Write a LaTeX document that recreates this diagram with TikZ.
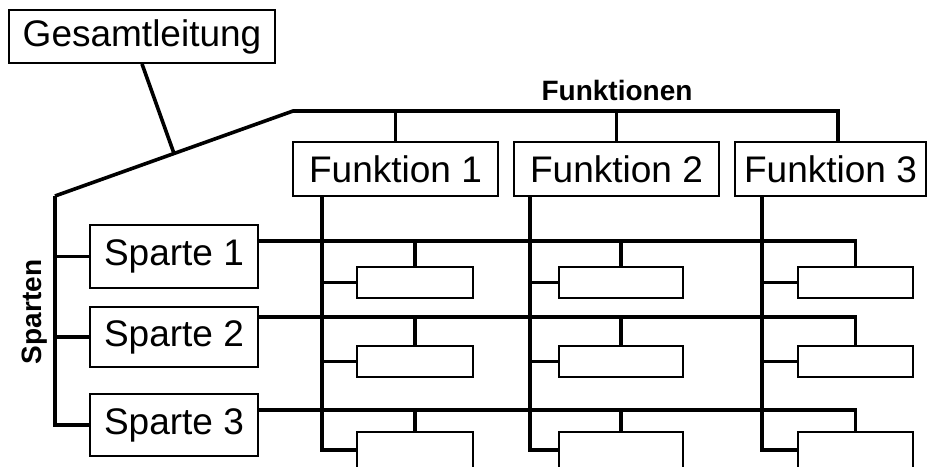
\documentclass[tikz,border=0pt]{standalone}
\usepackage{fontspec}
\setmainfont{Liberation Sans}
\begin{document}
\begin{tikzpicture}[x=1pt,y=-1pt,
    box/.style={draw=black,line width=1.9pt,inner sep=0pt,font=\fontsize{37}{40}\selectfont},
    leer/.style={draw=black,line width=1.9pt,inner sep=0pt},
    titel/.style={font=\bfseries\fontsize{28}{30}\selectfont,inner sep=0pt},
    verb/.style={line width=3.6pt}]
    \useasboundingbox (0,0) rectangle (928,466);
    \node[box,minimum width=266pt,minimum height=53pt] (gesamt) at (142,36.5) {Gesamtleitung};
    \node[box,minimum width=205pt,minimum height=54pt] (fkt1) at (395.5,169) {Funktion 1};
    \node[box,minimum width=205pt,minimum height=54pt] (fkt2) at (616.5,169) {Funktion 2};
    \node[box,minimum width=191pt,minimum height=54pt] (fkt3) at (830.5,169) {Funktion 3};
    \node[box,minimum width=168pt,minimum height=63pt] (sp1) at (174,256.5) {Sparte 1};
    \node[box,minimum width=168pt,minimum height=60pt] (sp2) at (174,337) {Sparte 2};
    \node[box,minimum width=168pt,minimum height=62pt] (sp3) at (174,425) {Sparte 3};
    \foreach \c/\x/\w in {1/415/116,2/621/124,3/855.5/115}
        \foreach \r/\y/\h in {1/282.5/31,2/361.5/31,3/450/36}
            \node[leer,minimum width=\w pt,minimum height=\h pt] (b\r\c) at (\x,\y) {};
    \node[titel] (funkt) at (617,90) {Funktionen};
    \node[titel,rotate=90] (sparten) at (35,312) {Sparten};

    \coordinate (ecke) at (55,196);
    \coordinate (dach) at (293,111);
    \coordinate (knick) at (174,153.5);
    \coordinate (ende) at (838,111);
    \draw[verb] (gesamt.south) -- (knick);
    \draw[verb] (ecke) -- (dach) -- (ende) -- (ende |- fkt3.north);
    \draw[verb] (fkt1.north) -- (fkt1.north |- dach);
    \draw[verb] (fkt2.north) -- (fkt2.north |- dach);
    \draw[verb] (ecke) |- (sp3.west);
    \draw[verb] (sp1.west -| ecke) -- (sp1.west);
    \draw[verb] (sp2.west -| ecke) -- (sp2.west);

    \coordinate (z1) at (258,241);
    \coordinate (z2) at (258,317);
    \coordinate (z3) at (258,410);
    \foreach \r in {1,2,3} {
        \draw[verb] (z\r) -| (b\r3.north);
        \draw[verb] (b\r1.north) -- (b\r1.north |- z\r);
        \draw[verb] (b\r2.north) -- (b\r2.north |- z\r);
    }

    \coordinate (s1) at (322,196);
    \coordinate (s2) at (530,196);
    \coordinate (s3) at (762,196);
    \foreach \c in {1,2,3} {
        \draw[verb] (s\c) |- (b3\c.west);
        \draw[verb] (b1\c.west -| s\c) -- (b1\c.west);
        \draw[verb] (b2\c.west -| s\c) -- (b2\c.west);
    }
\end{tikzpicture}
\end{document}
